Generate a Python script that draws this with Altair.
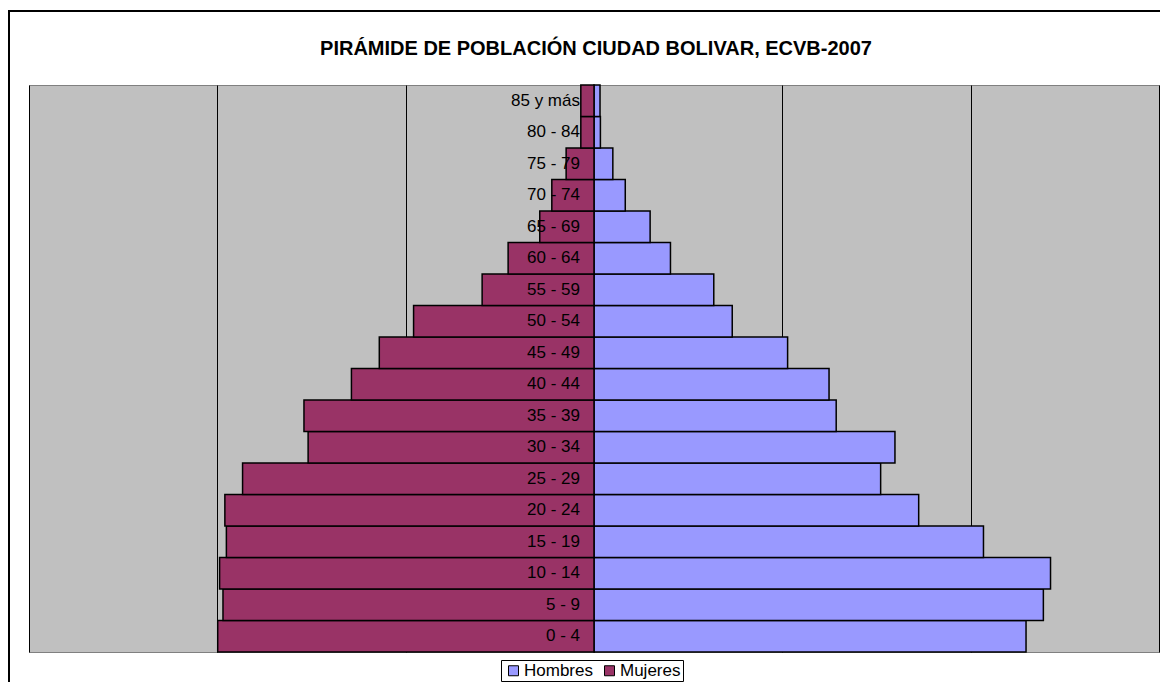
import altair as alt
import pandas as pd

ages = ["0 - 4", "5 - 9", "10 - 14", "15 - 19", "20 - 24", "25 - 29", "30 - 34",
        "35 - 39", "40 - 44", "45 - 49", "50 - 54", "55 - 59", "60 - 64",
        "65 - 69", "70 - 74", "75 - 79", "80 - 84", "85 y más"]
hombres = [11.47, 11.93, 12.12, 10.34, 8.62, 7.61, 7.99, 6.43, 6.24, 5.14,
           3.67, 3.18, 2.03, 1.49, 0.83, 0.50, 0.17, 0.16]
mujeres = [9.99, 9.85, 9.94, 9.76, 9.80, 9.33, 7.59, 7.70, 6.44, 5.70,
           4.79, 2.97, 2.28, 1.44, 1.12, 0.74, 0.35, 0.35]
series = ["Hombres", "Mujeres"]
colors = ["#9999FF", "#993366"]
title_text = "PIRÁMIDE DE POBLACIÓN CIUDAD BOLIVAR, ECVB-2007"

rows = []
for a, h, m in zip(ages, hombres, mujeres):
    rows.append({"edad": a, "sexo": "Hombres", "valor": h})
    rows.append({"edad": a, "sexo": "Mujeres", "valor": -m})
df = pd.DataFrame(rows)
labels_df = pd.DataFrame({"edad": ages})

FONT = "Liberation Sans"
order = list(reversed(ages))

yenc = alt.Y("edad:N", sort=order, axis=None,
             scale=alt.Scale(paddingInner=0, paddingOuter=0))

bars = alt.Chart(df).mark_bar(stroke="black", strokeWidth=1.5).encode(
    x=alt.X("valor:Q",
            scale=alt.Scale(domain=[-15, 15], nice=False),
            axis=alt.Axis(values=[-15, -10, -5, 0, 5, 10, 15], grid=True,
                          gridColor="#000000", gridOpacity=1, gridWidth=1,
                          labels=False, ticks=False, domain=False, title=None)),
    y=yenc,
    color=alt.Color("sexo:N",
                    scale=alt.Scale(domain=series, range=colors),
                    legend=alt.Legend(title=None, orient="none", legendX=472, legendY=575,
                                      direction="horizontal", strokeColor="black",
                                      fillColor="white", padding=2,
                                      symbolType="square", symbolSize=100,
                                      symbolStrokeColor="black", symbolStrokeWidth=1,
                                      labelFont=FONT, labelFontSize=17,
                                      labelColor="black", columnPadding=6,
                                      symbolOffset=2, labelOffset=2)),
)

labels = alt.Chart(labels_df).mark_text(align="right", baseline="middle", dx=-14,
                                        font=FONT, fontSize=17, color="black").encode(
    x=alt.datum(0),
    y=yenc,
    text="edad:N",
)

title = alt.Chart(alt.Data(values=[{"t": title_text}])).mark_text(
    align="center", baseline="middle", font=FONT, fontSize=20, fontWeight="bold",
    color="black").encode(x=alt.value(567), y=alt.value(-36), text="t:N")

frame_top = alt.Chart(alt.Data(values=[{}])).mark_rule(color="black", strokeWidth=2).encode(
    x=alt.value(-21), x2=alt.value(1135), y=alt.value(-74))
frame_left = alt.Chart(alt.Data(values=[{}])).mark_rule(color="black", strokeWidth=2).encode(
    x=alt.value(-20), y=alt.value(-75), y2=alt.value(610))

chart = alt.layer(bars, labels, title, frame_top, frame_left).properties(
    width=1130, height=567,
    padding={"left": 21, "top": 77, "right": 1, "bottom": 30},
    autosize=alt.AutoSizeParams(type="none"),
).configure_view(fill="#C0C0C0", stroke="#808080", strokeWidth=1)

chart.save("out.html", embed_options={"renderer": "svg", "actions": False})
